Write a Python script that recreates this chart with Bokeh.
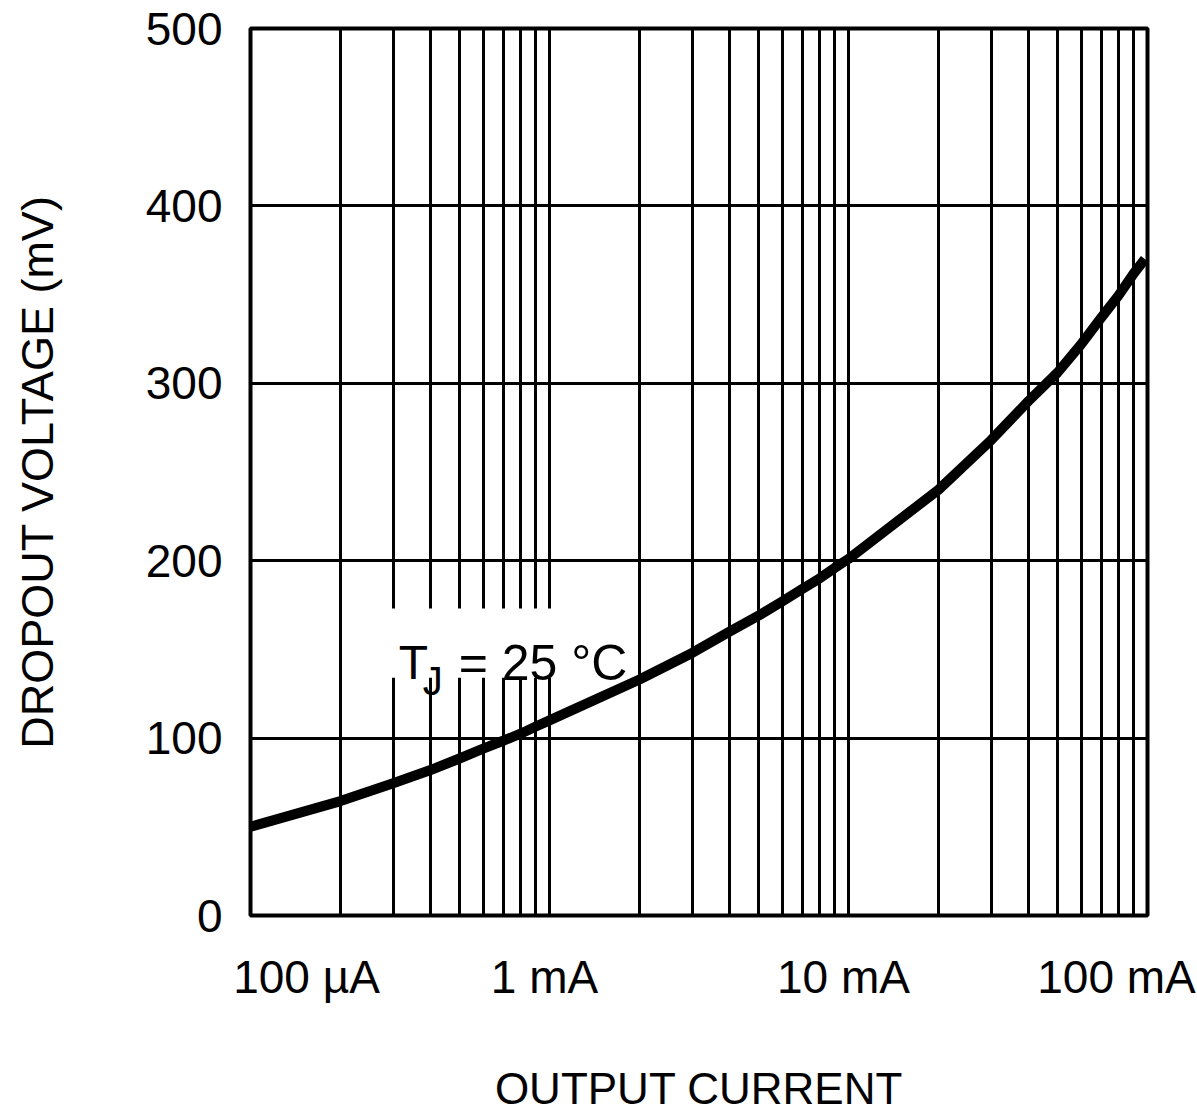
from bokeh.plotting import figure
from bokeh.models import FixedTicker, Label, BoxAnnotation, CustomJSTickFormatter, Range1d
from bokeh.embed import file_html
from bokeh.resources import INLINE

# ---- data ----
current_A = [1e-4, 2e-4, 3e-4, 4e-4, 5e-4, 6e-4, 7e-4, 8e-4, 9e-4,
             1e-3, 2e-3, 3e-3, 4e-3, 5e-3, 6e-3, 7e-3, 8e-3, 9e-3,
             1e-2, 2e-2, 3e-2, 4e-2, 5e-2, 6e-2, 7e-2, 8e-2, 9e-2, 9.8e-2]
dropout_mV = [50, 64.5, 74.5, 82, 88.5, 94, 98.5, 102.5, 106.5,
              110, 133, 148, 160, 169, 177, 184, 190, 196,
              201, 240, 268, 290, 306, 322, 337, 349.5, 362, 370]

x_grid_ticks = [1e-4, 1e-3, 1e-2, 1e-1]
x_tick_labels = ["100 µA", "1 mA", "10 mA", "100 mA"]
x_minor_ticks = [m * 10.0 ** e for e in (-4, -3, -2) for m in range(2, 10)]
y_ticks = [0, 100, 200, 300, 400, 500]

x_label = "OUTPUT CURRENT"
y_label = "DROPOUT VOLTAGE (mV)"
note_main = "T"
note_sub = "J"
note_rest = "= 25 °C"
note_x, note_y = 3.13e-4, 142.5

# ---- style / layout ----
FONT = "Liberation Sans"
FRAME_W, FRAME_H = 897, 887
PX_PER_DECADE = FRAME_W / 3.0
label_shift_px = [56, -5, -5, -31]      # where each tick label sits relative to its decade line
label_ticks = [t * 10 ** (dx / PX_PER_DECADE) for t, dx in zip(x_grid_ticks, label_shift_px)]

p = figure(x_axis_type="log", x_range=Range1d(1e-4, 1e-1), y_range=Range1d(0, 500),
           frame_width=FRAME_W, frame_height=FRAME_H,
           min_border_left=250, min_border_right=50, min_border_top=28, min_border_bottom=198,
           output_backend="svg", toolbar_location=None,
           background_fill_color="white", border_fill_color="white")

p.outline_line_color = "black"
p.outline_line_width = 4

grid_xt = FixedTicker(ticks=x_grid_ticks, minor_ticks=x_minor_ticks)
yt = FixedTicker(ticks=y_ticks, minor_ticks=[])

p.xgrid.ticker = grid_xt
p.ygrid.ticker = yt
p.yaxis.ticker = yt

for g in (p.xgrid, p.ygrid):
    g.grid_line_color = "black"
    g.grid_line_width = 3
    g.grid_line_alpha = 1.0
p.xgrid.minor_grid_line_color = "black"
p.xgrid.minor_grid_line_width = 3

# y axis
ya = p.yaxis[0]
ya.axis_line_color = None
ya.major_tick_line_color = None
ya.minor_tick_line_color = None
ya.major_tick_out = 0
ya.major_tick_in = 0
ya.major_label_standoff = 28
ya.major_label_text_font = FONT
ya.major_label_text_font_size = "46px"
ya.major_label_text_color = "black"
ya.axis_label = y_label
ya.axis_label_text_font = FONT
ya.axis_label_text_font_size = "45px"
ya.axis_label_text_font_style = "normal"
ya.axis_label_text_color = "black"
ya.axis_label_standoff = 80

# x axis: labels placed beside their decade lines as in the reference
xa = p.xaxis[0]
xa.ticker = FixedTicker(ticks=label_ticks, minor_ticks=[])
xa.formatter = CustomJSTickFormatter(args=dict(labels=x_tick_labels), code="return labels[index]")
xa.axis_line_color = None
xa.major_tick_line_color = None
xa.minor_tick_line_color = None
xa.major_tick_out = 0
xa.major_tick_in = 0
xa.minor_tick_out = 0
xa.major_label_standoff = 35
xa.major_label_text_font = FONT
xa.major_label_text_font_size = "46px"
xa.major_label_text_color = "black"
xa.axis_label = x_label
xa.axis_label_text_font = FONT
xa.axis_label_text_font_size = "44px"
xa.axis_label_text_font_style = "normal"
xa.axis_label_text_color = "black"
xa.axis_label_standoff = 58

# white box behind the annotation text
p.add_layout(BoxAnnotation(left=2.83e-4, right=1.95e-3, bottom=134, top=173,
                           fill_color="white", fill_alpha=1.0, line_color=None,
                           level="underlay"))

p.line(current_A, dropout_mV, line_width=10, color="black", line_join="round")

p.add_layout(Label(x=note_x, y=note_y, text=note_main, text_align="left",
                   text_baseline="alphabetic", text_font=FONT, text_font_size="48px",
                   text_color="black"))
p.add_layout(Label(x=note_x, y=note_y, text=note_sub, x_offset=24, y_offset=-18,
                   text_align="left", text_baseline="alphabetic",
                   text_font=FONT, text_font_size="40px", text_color="black"))
p.add_layout(Label(x=note_x, y=note_y, text=note_rest, x_offset=60,
                   text_align="left", text_baseline="alphabetic",
                   text_font=FONT, text_font_size="50px", text_color="black"))

open("out.html", "w").write(file_html(p, INLINE))
